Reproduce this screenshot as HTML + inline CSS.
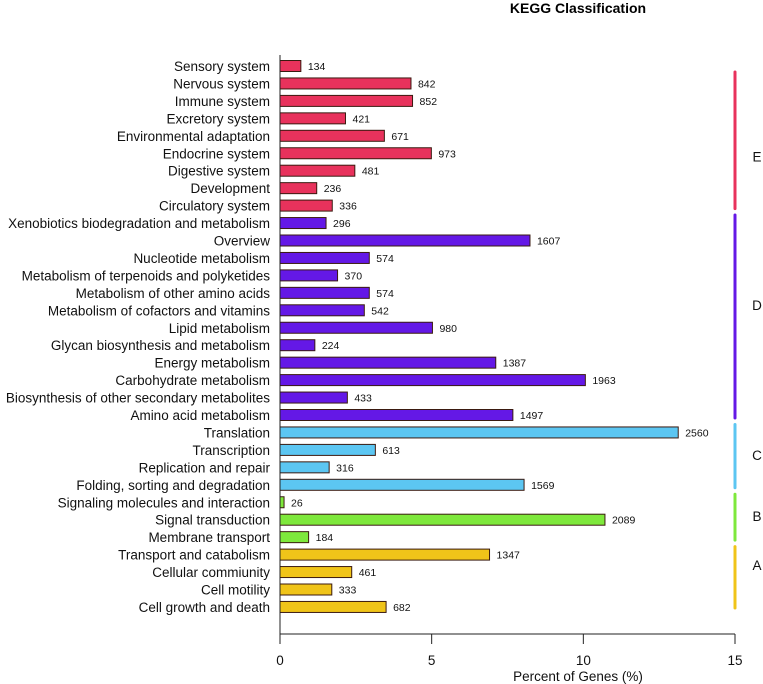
<!DOCTYPE html>
<html><head><meta charset="utf-8"><style>
html,body{margin:0;padding:0;background:#fff;width:763px;height:684px;overflow:hidden}
svg text{font-family:"Liberation Sans",Arial,sans-serif}
</style></head><body>
<svg id="chart" width="763" height="684" xmlns="http://www.w3.org/2000/svg">
<text x="578" y="13" text-anchor="middle" font-size="14" font-weight="bold">KEGG Classification</text>
</svg>
<script>
const categories=["Sensory system","Nervous system","Immune system","Excretory system","Environmental adaptation","Endocrine system","Digestive system","Development","Circulatory system","Xenobiotics biodegradation and metabolism","Overview","Nucleotide metabolism","Metabolism of terpenoids and polyketides","Metabolism of other amino acids","Metabolism of cofactors and vitamins","Lipid metabolism","Glycan biosynthesis and metabolism","Energy metabolism","Carbohydrate metabolism","Biosynthesis of other secondary metabolites","Amino acid metabolism","Translation","Transcription","Replication and repair","Folding, sorting and degradation","Signaling molecules and interaction","Signal transduction","Membrane transport","Transport and catabolism","Cellular commiunity","Cell motility","Cell growth and death"];
const counts=[134,842,852,421,671,973,481,236,336,296,1607,574,370,574,542,980,224,1387,1963,433,1497,2560,613,316,1569,26,2089,184,1347,461,333,682];
const groups=["E","E","E","E","E","E","E","E","E","D","D","D","D","D","D","D","D","D","D","D","D","C","C","C","C","B","B","B","A","A","A","A"];
const totalGenes=19500;
const xTicks=[0,5,10,15];
const colors={E:"#e8325c",D:"#6418e6",C:"#5cc6f2",B:"#7ee83c",A:"#f0c419"};
const groupLabelRow={E:5.2,D:13.7,C:22.3,B:25.8,A:28.6};
const NS="http://www.w3.org/2000/svg";
const svg=document.getElementById('chart');
const x0=280,x1=735,xMax=15;
const xs=v=>x0+(v/xMax)*(x1-x0);
const yTop=66,step=17.45;
const ys=i=>yTop+i*step;
function mk(t,a){const e=document.createElementNS(NS,t);for(const k in a)e.setAttribute(k,a[k]);svg.appendChild(e);return e;}
categories.forEach((c,i)=>{
  const pct=counts[i]/totalGenes*100;
  const y=ys(i);
  const r=mk('rect',{x:x0,y:y-5.5,width:xs(pct)-x0,height:11,fill:colors[groups[i]],stroke:"#3a1a10","stroke-width":1});
  
  
  const l=mk('text',{x:270,y:y+5,"text-anchor":"end","font-size":13.5,fill:"#111"});
  l.textContent=c;
  
  
  const v=mk('text',{x:xs(pct)+7,y:y+4,"font-size":10.5,fill:"#111"});
  v.textContent=counts[i];
  
  
});
const ya=mk('line',{x1:x0,y1:55,x2:x0,y2:634,stroke:"#222","stroke-width":1});


const xa=mk('line',{x1:x0,y1:634,x2:x1,y2:634,stroke:"#222","stroke-width":1});


xTicks.forEach(t=>{
  const tk=mk('line',{x1:xs(t),y1:634,x2:xs(t),y2:644,stroke:"#222"});
  
  
  const tl=mk('text',{x:xs(t),y:665,"text-anchor":"middle","font-size":13.5,fill:"#111"});
  tl.textContent=t;
  
  
});
const at=mk('text',{x:578,y:681,"text-anchor":"middle","font-size":13.5,fill:"#111"});
at.textContent="Percent of Genes (%)";


["E","D","C","B","A"].forEach(g=>{
  const idx=groups.map((v,i)=>v===g?i:-1).filter(i=>i>=0);
  const a=ys(idx[0])+ (g==="E"?6:-8),b=ys(idx[idx.length-1])+(g==="A"?1:3);
  const bl=mk('line',{x1:735,y1:a,x2:735,y2:b,stroke:colors[g],"stroke-width":3,"stroke-linecap":"round"});
  
  
  const gl=mk('text',{x:757,y:ys(groupLabelRow[g])+5,"text-anchor":"middle","font-size":13.5,fill:"#111"});
  gl.textContent=g;
  
  
});
</script>
</body></html>
